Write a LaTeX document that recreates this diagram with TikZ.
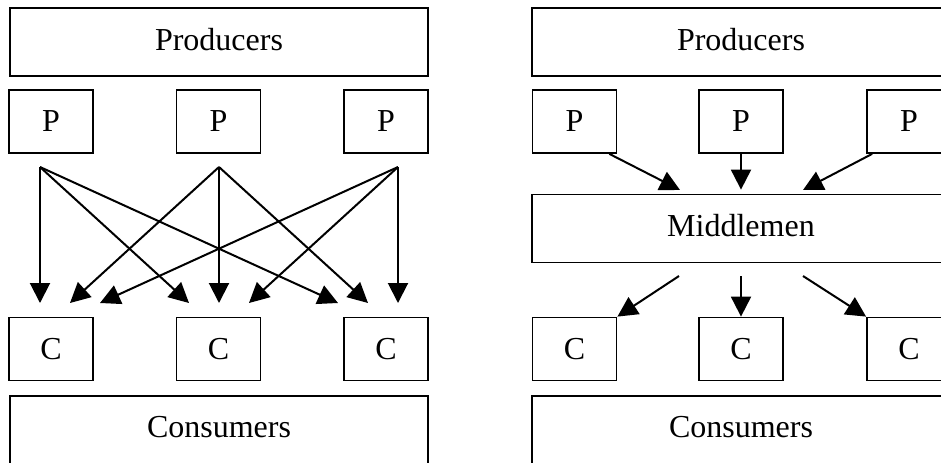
\documentclass[tikz,border=0pt]{standalone}
\usepackage{fontspec}
\setmainfont{Liberation Serif}
\usetikzlibrary{arrows.meta}

\begin{document}
\begin{tikzpicture}[x=0.5pt, y=-0.5pt,
        every node/.style={font=\fontsize{16}{19}\selectfont},
        flow/.style={-{Triangle[length=10pt,width=10pt]}, line width=1pt},
        bigbox/.style={draw, line width=0.9pt, minimum width=209pt, minimum height=34pt, inner sep=0pt, text depth=3pt},
        lowbox/.style={bigbox, anchor=north, minimum height=36pt, text depth=5pt},
        smallbox/.style={draw, line width=0.9pt, minimum width=42pt, minimum height=31.5pt, inner sep=0pt}]
        \useasboundingbox (0,0) rectangle (941,462);
        \clip (0,0) rectangle (941,462);

        % direct trade: every producer to every consumer
        \node[bigbox] (prodL) at (219,42) {Producers};
        \node[smallbox] (pL1) at (51,121.5) {P};
        \node[smallbox] (pL2) at (218.5,121.5) {P};
        \node[smallbox] (pL3) at (386,121.5) {P};
        \node[smallbox] (cL1) at (51,349) {C};
        \node[smallbox] (cL2) at (218.5,349) {C};
        \node[smallbox] (cL3) at (386,349) {C};
        \node[lowbox] (consL) at (219,395) {Consumers};

        \foreach \i/\x in {1/40,2/219,3/398}
            \coordinate (outL\i) at (\x,167);
        \foreach \i in {1,2,3}
            \foreach \j/\x in {1/40,2/219,3/398} {
                \coordinate (inL\i\j) at ({\x+30*(\i-\j)},303);
                \draw[flow] (outL\i) -- (inL\i\j);
            }

        % trade through middlemen
        \node[bigbox] (prodR) at (741,42) {Producers};
        \node[smallbox] (pR1) at (574.5,121.5) {P};
        \node[smallbox] (pR2) at (741,121.5) {P};
        \node[smallbox] (pR3) at (909,121.5) {P};
        \node[bigbox] (mid) at (741,228.5) {Middlemen};
        \node[smallbox] (cR1) at (574.5,349) {C};
        \node[smallbox] (cR2) at (741,349) {C};
        \node[smallbox] (cR3) at (909,349) {C};
        \node[lowbox] (consR) at (741,395) {Consumers};

        % producers to middlemen
        \coordinate (toMid1) at (680,190);
        \coordinate (toMid3) at (803,190);
        \draw[flow] ([xshift=-4pt]pR1.south east) -- (toMid1);
        \draw[flow] (pR2.south) -- ([yshift=2pt]mid.north);
        \draw[flow] ([xshift=3pt]pR3.south west) -- (toMid3);

        % middlemen to consumers
        \coordinate (fromMid1) at (679,276);
        \coordinate (fromMid3) at (803,276);
        \draw[flow] (fromMid1) -- (cR1.north east);
        \draw[flow] ([yshift=-6.5pt]mid.south) -- (cR2.north);
        \draw[flow] (fromMid3) -- (cR3.north west);
\end{tikzpicture}
\end{document}
